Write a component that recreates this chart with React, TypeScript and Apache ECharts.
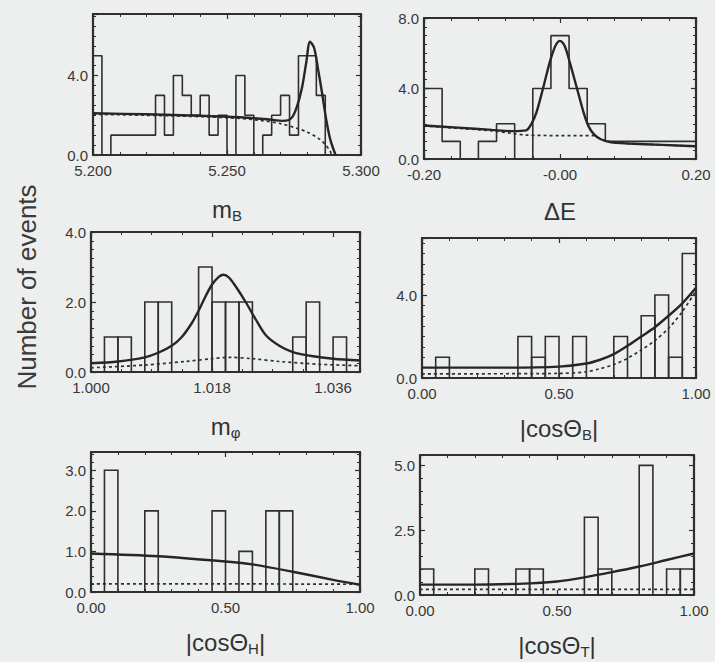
import React, { useEffect, useRef } from 'react';
import * as echarts from 'echarts';

// ---------------- Panel 1 : m_B ----------------
const mbBinLow = 5.2;
const mbBinWidth = 0.1 / 30;
const mbCounts = [5, 0, 1, 1, 1, 1, 1, 3, 1, 4, 3, 2, 3, 1, 2, 0, 4, 2, 0, 1, 2, 3, 1, 5, 5, 3, 0, 0, 0, 0];
const mbFitX = [5.2, 5.22, 5.24, 5.255, 5.265, 5.271, 5.274, 5.276, 5.278, 5.2795, 5.281, 5.2825, 5.284, 5.2855, 5.287, 5.2885, 5.2905];
const mbFitY = [2.1, 2.05, 1.98, 1.9, 1.8, 1.72, 1.85, 2.4, 3.4, 4.6, 5.7, 5.4, 4.3, 3.1, 1.8, 0.8, 0.0];
const mbBgX = [5.2, 5.23, 5.25, 5.262, 5.27, 5.276, 5.28, 5.284, 5.2865, 5.2885, 5.289];
const mbBgY = [2.05, 1.97, 1.88, 1.75, 1.58, 1.35, 1.15, 0.85, 0.55, 0.2, 0.0];
const mbXTicks = [0, 50, 100];
const mbXLabels = ['5.200', '5.250', '5.300'];
const mbYTicks = [0, 4];
const mbYLabels = ['0.0', '4.0'];

// ---------------- Panel 2 : ΔE ----------------
const deBinLow = -0.2;
const deBinWidth = 0.4 / 15;
const deCounts = [4, 1, 0, 1, 2, 0, 4, 7, 4, 2, 1, 1, 1, 1, 1];
const deFitX = [-0.2, -0.15, -0.1, -0.07, -0.05, -0.042, -0.035, -0.025, -0.015, -0.007, 0, 0.007, 0.015, 0.025, 0.035, 0.042, 0.05, 0.06, 0.075, 0.1, 0.15, 0.2];
const deFitY = [1.9, 1.78, 1.65, 1.58, 1.62, 2.0, 2.6, 4.0, 5.5, 6.4, 6.7, 6.4, 5.4, 4.0, 2.6, 1.85, 1.4, 1.12, 0.95, 0.88, 0.8, 0.72];
const deBgX = [-0.2, -0.15, -0.1, -0.07, -0.05, 0, 0.05, 0.06, 0.075, 0.1, 0.15, 0.2];
const deBgY = [1.88, 1.74, 1.6, 1.45, 1.36, 1.33, 1.33, 1.12, 0.95, 0.88, 0.8, 0.72];
const deXTicks = [-0.2, 0, 0.2];
const deXLabels = ['-0.20', '-0.00', '0.20'];
const deYTicks = [0, 4, 8];
const deYLabels = ['0.0', '4.0', '8.0'];

// ---------------- Panel 3 : m_phi ----------------
const mpBinLow = 1.0;
const mpBinWidth = 0.002;
const mpCounts = [0, 1, 1, 0, 2, 2, 0, 0, 3, 2, 2, 2, 0, 0, 0, 1, 2, 0, 1, 0];
const mpFitX = [1.0, 1.004, 1.008, 1.01, 1.012, 1.0135, 1.015, 1.016, 1.017, 1.018, 1.019, 1.0197, 1.0205, 1.0215, 1.023, 1.0245, 1.026, 1.028, 1.03, 1.033, 1.036, 1.04];
const mpFitY = [0.25, 0.3, 0.42, 0.55, 0.75, 1.0, 1.4, 1.75, 2.15, 2.5, 2.72, 2.78, 2.7, 2.45, 2.0, 1.5, 1.05, 0.75, 0.57, 0.45, 0.38, 0.33];
const mpBgX = [1.0, 1.008, 1.014, 1.018, 1.0205, 1.024, 1.028, 1.034, 1.04];
const mpBgY = [0.12, 0.2, 0.3, 0.38, 0.42, 0.38, 0.3, 0.22, 0.18];
const mpXTicks = [0, 18, 36];
const mpXLabels = ['1.000', '1.018', '1.036'];
const mpYTicks = [0, 2, 4];
const mpYLabels = ['0.0', '2.0', '4.0'];

// ---------------- Panel 4 : |cosΘ_B| ----------------
const cbBinLow = 0;
const cbBinWidth = 0.05;
const cbCounts = [0, 1, 0, 0, 0, 0, 0, 2, 1, 2, 0, 2, 0, 0, 2, 0, 3, 4, 1, 6];
const cbFitX = [0, 0.3, 0.5, 0.6, 0.65, 0.7, 0.75, 0.8, 0.85, 0.9, 0.95, 1.0];
const cbFitY = [0.5, 0.5, 0.55, 0.7, 0.88, 1.15, 1.55, 2.0, 2.45, 3.0, 3.6, 4.35];
const cbBgX = [0, 0.5, 0.6, 0.65, 0.7, 0.75, 0.8, 0.85, 0.9, 0.95, 1.0];
const cbBgY = [0.2, 0.22, 0.3, 0.45, 0.65, 0.95, 1.35, 1.8, 2.4, 3.2, 4.2];
const cbYTicks = [0, 4];
const cbYLabels = ['0.0', '4.0'];

// ---------------- Panel 5 : |cosΘ_H| ----------------
const chBinLow = 0;
const chBinWidth = 0.05;
const chCounts = [0, 3, 0, 0, 2, 0, 0, 0, 0, 2, 0, 1, 0, 2, 2, 0, 0, 0, 0, 0];
const chFitX = [0, 0.25, 0.5, 0.6, 0.75, 0.9, 1.0];
const chFitY = [0.95, 0.88, 0.75, 0.68, 0.5, 0.3, 0.18];
const chBgX = [0, 0.5, 1.0];
const chBgY = [0.2, 0.2, 0.19];
const chYTicks = [0, 1, 2, 3];
const chYLabels = ['0.0', '1.0', '2.0', '3.0'];

// ---------------- Panel 6 : |cosΘ_T| ----------------
const ctBinLow = 0;
const ctBinWidth = 0.05;
const ctCounts = [1, 0, 0, 0, 1, 0, 0, 1, 1, 0, 0, 0, 3, 1, 0, 0, 5, 0, 1, 1];
const ctFitX = [0, 0.2, 0.4, 0.5, 0.6, 0.7, 0.8, 0.9, 1.0];
const ctFitY = [0.4, 0.4, 0.45, 0.52, 0.68, 0.88, 1.1, 1.35, 1.6];
const ctBgX = [0, 0.5, 1.0];
const ctBgY = [0.22, 0.22, 0.22];
const ctYTicks = [0, 2.5, 5];
const ctYLabels = ['0.0', '2.5', '5.0'];

const cosXTicks = [0, 0.5, 1];
const cosXLabels = ['0.00', '0.50', '1.00'];

const FONT = "'Liberation Sans', Arial, Helvetica, sans-serif";
const INK = '#2f2f2f';
const BG = '#edefee';

type Panel = {
  left: number; top: number; width: number; height: number;
  xMin: number; xMax: number; xInterval: number; xMinor: number;
  toAxis: (v: number) => number;
  xTicks: number[]; xLabels: string[];
  yMax: number; yInterval: number; yMinor: number;
  yTicks: number[]; yLabels: string[];
  title: string; gap: number;
  binLow: number; binWidth: number; counts: number[]; step: boolean;
  fitX: number[]; fitY: number[]; bgX: number[]; bgY: number[];
};

const ident = (v: number) => v;

const panels: Panel[] = [
  {
    left: 93, top: 14, width: 268, height: 141,
    xMin: 0, xMax: 100, xInterval: 50, xMinor: 5, toAxis: (m) => (m - 5.2) * 1000,
    xTicks: mbXTicks, xLabels: mbXLabels,
    yMax: 7.1, yInterval: 4, yMinor: 8, yTicks: mbYTicks, yLabels: mbYLabels,
    title: '{a|m}{s|B}', gap: 40,
    binLow: mbBinLow, binWidth: mbBinWidth, counts: mbCounts, step: true,
    fitX: mbFitX, fitY: mbFitY, bgX: mbBgX, bgY: mbBgY,
  },
  {
    left: 424, top: 18, width: 272, height: 141,
    xMin: -0.2, xMax: 0.2, xInterval: 0.2, xMinor: 5, toAxis: ident,
    xTicks: deXTicks, xLabels: deXLabels,
    yMax: 8, yInterval: 4, yMinor: 8, yTicks: deYTicks, yLabels: deYLabels,
    title: '{a|ΔE}', gap: 38,
    binLow: deBinLow, binWidth: deBinWidth, counts: deCounts, step: true,
    fitX: deFitX, fitY: deFitY, bgX: deBgX, bgY: deBgY,
  },
  {
    left: 91, top: 232, width: 269, height: 140,
    xMin: 0, xMax: 40, xInterval: 18, xMinor: 4, toAxis: (m) => (m - 1.0) * 1000,
    xTicks: mpXTicks, xLabels: mpXLabels,
    yMax: 4, yInterval: 2, yMinor: 8, yTicks: mpYTicks, yLabels: mpYLabels,
    title: '{a|m}{s|φ}', gap: 40,
    binLow: mpBinLow, binWidth: mpBinWidth, counts: mpCounts, step: false,
    fitX: mpFitX, fitY: mpFitY, bgX: mpBgX, bgY: mpBgY,
  },
  {
    left: 422, top: 238, width: 274, height: 140,
    xMin: 0, xMax: 1, xInterval: 0.5, xMinor: 5, toAxis: ident,
    xTicks: cosXTicks, xLabels: cosXLabels,
    yMax: 6.75, yInterval: 4, yMinor: 8, yTicks: cbYTicks, yLabels: cbYLabels,
    title: '{a||cosΘ}{s|B}{a||}', gap: 36,
    binLow: cbBinLow, binWidth: cbBinWidth, counts: cbCounts, step: false,
    fitX: cbFitX, fitY: cbFitY, bgX: cbBgX, bgY: cbBgY,
  },
  {
    left: 91, top: 452, width: 269, height: 140,
    xMin: 0, xMax: 1, xInterval: 0.5, xMinor: 5, toAxis: ident,
    xTicks: cosXTicks, xLabels: cosXLabels,
    yMax: 3.45, yInterval: 1, yMinor: 5, yTicks: chYTicks, yLabels: chYLabels,
    title: '{a||cosΘ}{s|H}{a||}', gap: 36,
    binLow: chBinLow, binWidth: chBinWidth, counts: chCounts, step: false,
    fitX: chFitX, fitY: chFitY, bgX: chBgX, bgY: chBgY,
  },
  {
    left: 420, top: 455, width: 274, height: 140,
    xMin: 0, xMax: 1, xInterval: 0.5, xMinor: 5, toAxis: ident,
    xTicks: cosXTicks, xLabels: cosXLabels,
    yMax: 5.4, yInterval: 2.5, yMinor: 5, yTicks: ctYTicks, yLabels: ctYLabels,
    title: '{a||cosΘ}{s|T}{a||}', gap: 36,
    binLow: ctBinLow, binWidth: ctBinWidth, counts: ctCounts, step: false,
    fitX: ctFitX, fitY: ctFitY, bgX: ctBgX, bgY: ctBgY,
  },
];

function labelFor(ticks: number[], labels: string[]) {
  return (v: number) => {
    for (let k = 0; k < ticks.length; k++) {
      if (Math.abs(v - ticks[k]) < 1e-6) return labels[k];
    }
    return '';
  };
}

function buildOption() {
  const grid: any[] = [];
  const xAxis: any[] = [];
  const yAxis: any[] = [];
  const series: any[] = [];

  const lineAxis = { show: true, onZero: false, lineStyle: { color: INK, width: 2.2 } };
  const tick = { show: true, inside: true, length: 5, lineStyle: { color: INK, width: 1.2 } };
  const labelStyle = { fontFamily: FONT, fontSize: 15, color: '#383838' };

  panels.forEach((p, i) => {
    grid.push({ left: p.left, top: p.top, width: p.width, height: p.height });

    const xBase = {
      type: 'value', gridIndex: i, min: p.xMin, max: p.xMax, interval: p.xInterval,
      axisLine: lineAxis, axisTick: tick,
      minorTick: { show: true, splitNumber: p.xMinor, length: 3, lineStyle: { color: INK, width: 1 } },
      splitLine: { show: false }, minorSplitLine: { show: false },
    };
    xAxis.push({
      ...xBase, position: 'bottom',
      axisLabel: { ...labelStyle, margin: 8, showMinLabel: true, showMaxLabel: true, formatter: labelFor(p.xTicks, p.xLabels) },
      name: p.title, nameLocation: 'middle', nameGap: p.gap,
      nameTextStyle: {
        fontFamily: FONT, fontSize: 24, color: '#333',
        rich: {
          a: { fontFamily: FONT, fontSize: 24, color: '#333', lineHeight: 28, verticalAlign: 'middle' },
          s: { fontFamily: FONT, fontSize: 15, color: '#333', lineHeight: 15, verticalAlign: 'bottom' },
        },
      },
    });
    xAxis.push({ ...xBase, position: 'top', axisLabel: { show: false } });

    const yBase = {
      type: 'value', gridIndex: i, min: 0, max: p.yMax, interval: p.yInterval,
      axisLine: lineAxis, axisTick: tick,
      minorTick: { show: true, splitNumber: p.yMinor, length: 3, lineStyle: { color: INK, width: 1 } },
      splitLine: { show: false }, minorSplitLine: { show: false },
    };
    yAxis.push({
      ...yBase, position: 'left',
      axisLabel: { ...labelStyle, margin: 5, showMinLabel: true, showMaxLabel: true, formatter: labelFor(p.yTicks, p.yLabels) },
    });
    yAxis.push({ ...yBase, position: 'right', axisLabel: { show: false } });

    const xi = 2 * i;
    const yi = 2 * i;

    // histogram
    if (p.step) {
      const pts: number[][] = [];
      const x0 = p.toAxis(p.binLow);
      pts.push([x0, 0]);
      p.counts.forEach((c, k) => {
        pts.push([p.toAxis(p.binLow + k * p.binWidth), c]);
      });
      pts.push([p.toAxis(p.binLow + p.counts.length * p.binWidth), 0]);
      series.push({
        type: 'line', xAxisIndex: xi, yAxisIndex: yi, step: 'end', data: pts,
        showSymbol: false, symbol: 'none', lineStyle: { color: INK, width: 1.6 }, z: 3,
      });
    } else {
      const boxes: number[][] = [];
      p.counts.forEach((c, k) => {
        if (c > 0) {
          boxes.push([p.toAxis(p.binLow + k * p.binWidth), p.toAxis(p.binLow + (k + 1) * p.binWidth), c]);
        }
      });
      series.push({
        type: 'custom', xAxisIndex: xi, yAxisIndex: yi, data: boxes,
        encode: { x: [0, 1], y: 2 }, z: 3,
        renderItem: (_params: any, api: any) => {
          const a = api.coord([api.value(0), 0]);
          const b = api.coord([api.value(0), api.value(2)]);
          const c = api.coord([api.value(1), api.value(2)]);
          const d = api.coord([api.value(1), 0]);
          return {
            type: 'polyline',
            shape: { points: [a, b, c, d] },
            style: { stroke: INK, lineWidth: 1.6, fill: 'none' },
          };
        },
      });
    }

    // background (dashed)
    series.push({
      type: 'line', xAxisIndex: xi, yAxisIndex: yi, smooth: 0.3,
      data: p.bgX.map((x, k) => [p.toAxis(x), p.bgY[k]]),
      showSymbol: false, symbol: 'none',
      lineStyle: { color: INK, width: 1.7, type: [3, 3] }, z: 4,
    });
    // full fit (solid)
    series.push({
      type: 'line', xAxisIndex: xi, yAxisIndex: yi, smooth: 0.3,
      data: p.fitX.map((x, k) => [p.toAxis(x), p.fitY[k]]),
      showSymbol: false, symbol: 'none',
      lineStyle: { color: '#262626', width: 2.4 }, z: 5,
    });
  });

  return {
    animation: false,
    backgroundColor: BG,
    grid, xAxis, yAxis, series,
    graphic: [
      {
        type: 'text', x: 27, y: 287, rotation: Math.PI / 2,
        style: {
          text: 'Number of events', fontFamily: FONT, fontSize: 26, fill: '#3a3a3a',
          align: 'center', verticalAlign: 'middle',
        },
      },
    ],
  };
}

export default function App() {
  const ref = useRef<HTMLDivElement>(null);
  useEffect(() => {
    if (!ref.current) return;
    const chart = echarts.init(ref.current, undefined, { renderer: 'svg' });
    chart.setOption(buildOption() as any);
    return () => chart.dispose();
  }, []);
  return (
    <div
      ref={ref}
      style={{ position: 'fixed', left: 0, top: 0, width: 715, height: 662, background: BG }}
    />
  );
}
